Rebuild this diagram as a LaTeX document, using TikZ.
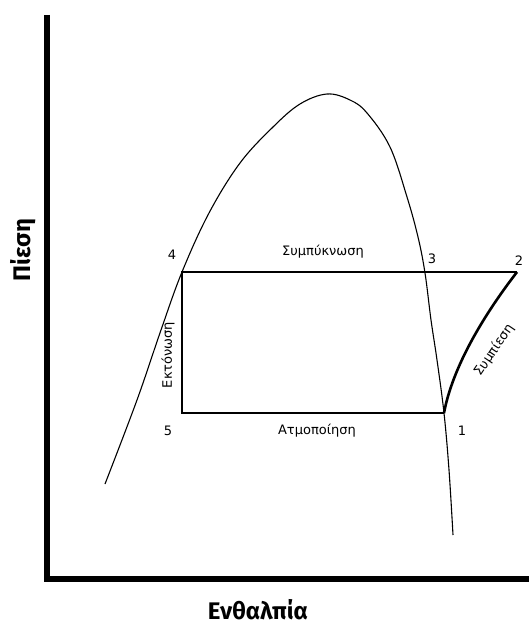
\documentclass[tikz,border=0pt]{standalone}
\usepackage{fontspec}
\setmainfont{DejaVu Sans}
\newfontfamily\axisfont{Fira Sans}
\begin{document}
\begin{tikzpicture}[x=1pt,y=-1pt,
  lbl/.style={font=\fontsize{13}{15}\selectfont, inner sep=0pt},
  axlbl/.style={font=\axisfont\bfseries\fontsize{24}{26}\selectfont, inner sep=0pt},
  axisline/.style={line width=6pt},
  dome/.style={line width=1.1pt},
  cycle/.style={line width=2.6pt, line join=miter}]
\useasboundingbox (0,0) rectangle (529,626);
% axes
\coordinate (o) at (47,579);
\coordinate (ytop) at (47,15);
\coordinate (xend) at (529,579);
\draw[axisline] (ytop) -- (o) -- (xend);
% saturation dome
\draw[dome] plot[smooth, tension=0.6] coordinates {(105,484) (137,400) (161,330) (182,272) (209,213) (240,163) (273,127) (300,104) (327,94) (350,100) (367,113) (390,147) (407,197) (418,237) (425,273) (431,320) (437,360) (444,413) (449,470) (453,535)};
% cycle points
\coordinate (p1) at (444,413);
\coordinate (p2) at (517,272);
\coordinate (p3) at (425,272);
\coordinate (p4) at (182,272);
\coordinate (p5) at (182,413);
\draw[cycle] (p1) -- (p5) -- (p4) -- (p2);
\draw[cycle] (p1) .. controls (452,370) and (480,320) .. (p2);
% labels
\node[lbl] (n4) at (172,255) {4};
\node[lbl] (n3) at (432,259) {3};
\node[lbl] (n2) at (519,261) {2};
\node[lbl] (n1) at (462,431) {1};
\node[lbl] (n5) at (168,431) {5};
\node[lbl] (cond) at (323,252) {Συμπύκνωση};
\node[lbl] (evap) at (317,431) {Ατμοποίηση};
\node[lbl, rotate=90] (exp) at (168,355) {Εκτόνωση};
\node[lbl, rotate=56] (comp) at (494,350) {Συμπίεση};
\node[axlbl, rotate=90] (ylab) at (23,250) {Πίεση};
\node[axlbl, anchor=base] (xlab) at (258,619) {Ενθαλπία};
\end{tikzpicture}
\end{document}
